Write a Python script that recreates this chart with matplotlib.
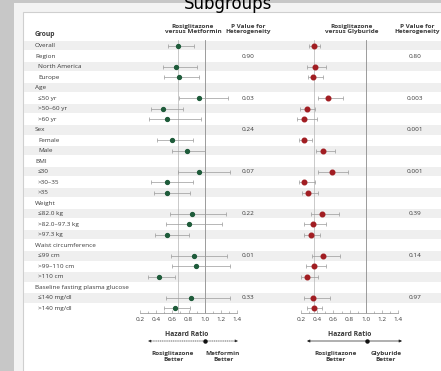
import matplotlib

matplotlib.use("Agg")
import matplotlib.pyplot as plt
from matplotlib.patches import Rectangle, FancyArrowPatch

plt.rcParams.update({
    "font.family": ["Open Sans", "DejaVu Sans"],
    "font.size": 4.6,
})

INK = "#3a3a3a"
GREEN = "#1e5b3a"
RED = "#a11d22"
CI_GREY = "#9a9a9a"

# ---- data ----
labels = ["Overall", "Region", "North America", "Europe", "Age", "\u226450 yr",
          ">50\u201360 yr", ">60 yr", "Sex", "Female", "Male", "BMI", "\u226430",
          ">30\u201335", ">35", "Weight", "\u226482.0 kg", ">82.0\u201397.3 kg",
          ">97.3 kg", "Waist circumference", "\u226499 cm", ">99\u2013110 cm",
          ">110 cm", "Baseline fasting plasma glucose", "\u2264140 mg/dl",
          ">140 mg/dl"]
is_header = [True, True, False, False, True, False, False, False, True, False,
             False, True, False, False, False, True, False, False, False, True,
             False, False, False, True, False, False]

# rosiglitazone vs metformin (None = heading row)
met_hr = [0.67, None, 0.65, 0.68, None, 0.93, 0.49, 0.54, None, 0.59, 0.78,
          None, 0.93, 0.54, 0.54, None, 0.84, 0.80, 0.54, None, 0.87, 0.89,
          0.435, None, 0.83, 0.63]
met_lo = [0.55, None, 0.49, 0.50, None, 0.68, 0.34, 0.31, None, 0.41, 0.60,
          None, 0.67, 0.34, 0.37, None, 0.57, 0.52, 0.39, None, 0.58, 0.60,
          0.30, None, 0.52, 0.50]
met_hi = [0.87, None, 0.91, 0.93, None, 1.29, 0.73, 0.96, None, 0.85, 1.01,
          None, 1.31, 0.85, 0.82, None, 1.26, 1.21, 0.80, None, 1.28, 1.31,
          0.63, None, 1.31, 0.82]
met_p = {"Region": "0.90", "\u226450 yr": "0.03", "Sex": "0.24",
         "\u226430": "0.07", "\u226482.0 kg": "0.22", "\u226499 cm": "0.01",
         "\u2264140 mg/dl": "0.33"}

# rosiglitazone vs glyburide
gly_hr = [0.36, None, 0.37, 0.35, None, 0.53, 0.27, 0.24, None, 0.24, 0.47,
          None, 0.58, 0.24, 0.29, None, 0.455, 0.35, 0.32, None, 0.475, 0.36,
          0.28, None, 0.35, 0.36]
gly_lo = [0.30, None, 0.28, 0.29, None, 0.41, 0.19, 0.15, None, 0.17, 0.385,
          None, 0.41, 0.18, 0.21, None, 0.32, 0.24, 0.24, None, 0.33, 0.26,
          0.20, None, 0.24, 0.28]
gly_hi = [0.43, None, 0.51, 0.475, None, 0.72, 0.37, 0.40, None, 0.33, 0.62,
          None, 0.78, 0.37, 0.41, None, 0.67, 0.51, 0.44, None, 0.68, 0.51,
          0.41, None, 0.56, 0.455]
gly_p = {"Region": "0.80", "\u226450 yr": "0.003", "Sex": "0.001",
         "\u226430": "0.001", "\u226482.0 kg": "0.39", "\u226499 cm": "0.14",
         "\u2264140 mg/dl": "0.97"}

ticks = [0.2, 0.4, 0.6, 0.8, 1.0, 1.2, 1.4]

# ---- layout (pixels) ----
W, H = 441, 371
ROW0, DY = 45.7, 10.5
row_y = [ROW0 + i * DY for i in range(len(labels))]

fig = plt.figure(figsize=(W / 100, H / 100), dpi=100)
fig.patch.set_facecolor("#c7c7c7")
bg = fig.add_axes([0, 0, 1, 1])
bg.set_xlim(0, W)
bg.set_ylim(H, 0)
bg.axis("off")

bg.add_patch(Rectangle((14, 3), W, H, fc="#f3f3f3", ec="none"))
bg.add_patch(Rectangle((23, 12), W, H, fc="white", ec="#cfcfcf", lw=0.8))
bg.text(228, 9, "Subgroups", ha="center", va="baseline", fontsize=12,
        color="black", family=["DejaVu Sans"])

for i, y in enumerate(row_y):
    if i % 2 == 0:
        bg.add_patch(Rectangle((24, y - 4.8), W, 9.6, fc="#efefef", ec="none"))
    bg.text(35 if is_header[i] else 38, y, labels[i], ha="left", va="center",
            color=INK)
    if labels[i] in met_p:
        bg.text(248, y, met_p[labels[i]], ha="center", va="center", color=INK)
    if labels[i] in gly_p:
        bg.text(415, y, gly_p[labels[i]], ha="center", va="center", color=INK)

bg.text(35, 34.5, "Group", ha="left", va="center", weight="bold", color=INK,
        fontsize=4.9)
for x, t in [(193, "Rosiglitazone\nversus Metformin"),
             (248, "P Value for\nHeterogeneity"),
             (352, "Rosiglitazone\nversus Glyburide"),
             (417, "P Value for\nHeterogeneity")]:
    bg.text(x, 29, t, ha="center", va="center", weight="bold", color=INK,
            linespacing=1.0)


def forest(x02, x14, hr, lo, hi, color, ms, overall):
    ppu = (x14 - x02) / 1.2
    left = x02 - 0.2 * ppu
    top = ROW0 - 0.5 * DY
    bottom = ROW0 + (len(labels) - 0.5) * DY
    ax = fig.add_axes([left / W, 1 - bottom / H, 1.6 * ppu / W,
                       (bottom - top) / H])
    ax.patch.set_alpha(0)
    ax.set_xlim(0, 1.6)
    ax.set_ylim(len(labels) - 0.5, -0.5)
    for s in ("top", "left", "right"):
        ax.spines[s].set_visible(False)
    ax.spines["bottom"].set_bounds(0.2, 1.4)
    ax.spines["bottom"].set_color("#8a8a8a")
    ax.spines["bottom"].set_linewidth(0.5)
    ax.set_yticks([])
    ax.set_xticks(ticks)
    ax.set_xticklabels([f"{t:.1f}" for t in ticks])
    ax.set_xticks([0.3, 0.5, 0.7, 0.9, 1.1, 1.3], minor=True)
    ax.tick_params(axis="x", direction="in", length=2, width=0.4,
                   color="#8a8a8a", pad=2.6, labelsize=4.6, labelcolor=INK)
    ax.tick_params(axis="x", which="minor", direction="in", length=1.2,
                   width=0.4, color="#8a8a8a")
    ax.axvline(1.0, color="#8c8c8c", lw=0.6, zorder=1)
    ax.axvline(overall, color="#b4b4b4", lw=0.5, zorder=1)
    for i in range(len(labels)):
        if hr[i] is None:
            continue
        ax.errorbar(hr[i], i, xerr=[[hr[i] - lo[i]], [hi[i] - hr[i]]],
                    fmt="o", color=color, ms=ms, mec=color, ecolor=CI_GREY,
                    elinewidth=0.5, capsize=1.3, capthick=0.5, zorder=3)
    return ax


forest(140, 237, met_hr, met_lo, met_hi, GREEN, 2.8, met_hr[0])
forest(301, 398.3, gly_hr, gly_lo, gly_hi, RED, 3.3, gly_hr[0])

# ---- bottom annotations ----
for cx, a, b, mid, ls, l1, l2 in [
        (187, 148, 238, 205, ":", (173, "Rosiglitazone\nBetter"),
         (223, "Metformin\nBetter")),
        (350, 307, 402, 366.5, "-", (336, "Rosiglitazone\nBetter"),
         (386, "Glyburide\nBetter"))]:
    bg.text(cx, 334, "Hazard Ratio", ha="center", va="center",
            weight="bold", color=INK, fontsize=4.9)
    for x0, x1 in [(mid, a), (mid, b)]:
        bg.add_patch(FancyArrowPatch((x0, 341), (x1, 341), arrowstyle="-|>",
                                     mutation_scale=4, color="#222222",
                                     lw=0.5, linestyle=ls, shrinkA=0,
                                     shrinkB=0))
    bg.plot([mid], [341], "o", color="#111111", ms=2.2)
    for x, t in (l1, l2):
        bg.text(x, 356.5, t, ha="center", va="center", weight="bold",
                color=INK, linespacing=1.1)

fig.savefig("out.png", dpi=100, facecolor=fig.get_facecolor())
